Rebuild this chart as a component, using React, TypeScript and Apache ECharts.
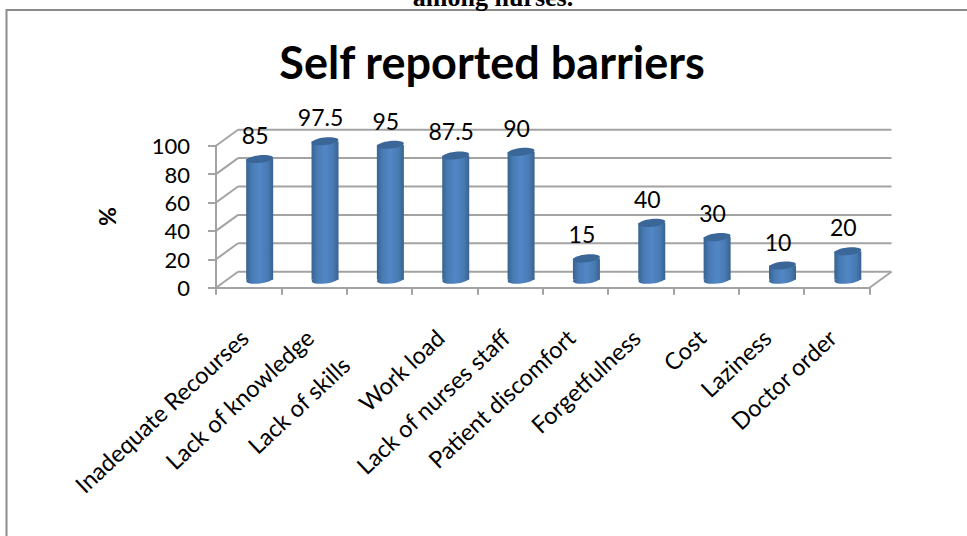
import React, { useEffect, useRef } from "react";
import * as echarts from "echarts";

const categories = ["Inadequate Recourses", "Lack of knowledge", "Lack of skills", "Work load", "Lack of nurses staff", "Patient discomfort", "Forgetfulness", "Cost", "Laziness", "Doctor order"];
const values = [85, 97.5, 95, 87.5, 90, 15, 40, 30, 10, 20];
const yTicks = [0, 20, 40, 60, 80, 100];
const titleText = "Self reported barriers";
const captionText = "among nurses.";
const yName = "%";

const FONT = "Lato";
const GRID = "#a3a3a3";
const DX = 22, DY = -16;

export default function App() {
  const ref = useRef<HTMLDivElement>(null);
  useEffect(() => {
    const chart = echarts.init(ref.current!, null, { renderer: "svg" });
    const bodyFill = new echarts.graphic.LinearGradient(0, 0, 1, 0, [
      { offset: 0, color: "#36648f" },
      { offset: 0.2, color: "#487ab4" },
      { offset: 0.5, color: "#5287c6" },
      { offset: 0.8, color: "#487ab2" },
      { offset: 1, color: "#38628f" },
    ]);
    const labelFont = { fontFamily: FONT, fontSize: 23.5, color: "#000" };
    chart.setOption({
      animation: false,
      backgroundColor: "#fff",
      title: {
        text: titleText, left: 487, top: 34, textAlign: "center",
        textStyle: { fontFamily: FONT, fontWeight: "bold", fontSize: 45, color: "#000" },
      },
      grid: { left: 216, right: 97.5, top: 145.7, bottom: 248.3 },
      xAxis: {
        type: "category", data: categories,
        axisLine: { lineStyle: { color: GRID, width: 2 } },
        axisTick: { show: true, length: 7, alignWithLabel: false, lineStyle: { color: GRID, width: 2 } },
        axisLabel: {
          interval: 0, rotate: 43, margin: 42, ...labelFont,
          formatter: (v: string) => (v === "Lack of skills" ? `{pad|${v}}` : `{base|${v}}`),
          rich: {
            base: { ...labelFont, padding: [0, 6, 0, 0] },
            pad: { ...labelFont, padding: [0, 46, 0, 0] },
          },
        },
      },
      yAxis: {
        type: "value", min: 0, max: 100, interval: 20,
        name: yName, nameLocation: "middle", nameGap: 98,
        nameTextStyle: { fontFamily: FONT, fontWeight: "bold", fontSize: 23, color: "#000" },
        axisLine: { show: true, lineStyle: { color: GRID, width: 2 } },
        axisTick: { show: true, length: 8, lineStyle: { color: GRID, width: 2 } },
        axisLabel: { margin: 26, fontFamily: FONT, fontSize: 22, color: "#000" },
        splitLine: { show: false },
      },
      series: [
        {
          type: "custom", z: 1, silent: true,
          data: yTicks.map((t) => [0, t]),
          encode: { x: 0, y: 1 },
          renderItem: (_p: any, api: any) => {
            const band = api.size([1, 0])[0];
            const p = api.coord([0, api.value(1)]);
            const left = p[0] - band / 2;
            const right = left + band * categories.length;
            const lineStyle = { stroke: GRID, lineWidth: 2, fill: "none" };
            const children: any[] = [
              { type: "line", shape: { x1: left, y1: p[1], x2: left + DX, y2: p[1] + DY }, style: lineStyle },
              { type: "line", shape: { x1: left + DX, y1: p[1] + DY, x2: right + DX, y2: p[1] + DY }, style: lineStyle },
            ];
            if (api.value(1) === 0) {
              children.push({ type: "line", shape: { x1: right, y1: p[1], x2: right + DX, y2: p[1] + DY }, style: lineStyle });
            }
            return { type: "group", children };
          },
        },
        {
          type: "custom", z: 3, silent: true,
          data: values.map((v, i) => [i, v]),
          encode: { x: 0, y: 1 },
          renderItem: (_p: any, api: any) => {
            const top = api.coord([api.value(0), api.value(1)]);
            const base = api.coord([api.value(0), 0]);
            const cx = base[0] + DX / 2;
            const by = base[1] + DY / 2;
            const ty = top[1] + DY / 2;
            const rx = 13.5, ry = 3.8, tilt = 0.11;
            return {
              type: "group",
              children: [
                { type: "ellipse", x: cx, y: by, rotation: tilt, shape: { cx: 0, cy: 0, rx, ry }, style: { fill: bodyFill } },
                { type: "rect", shape: { x: cx - rx, y: ty, width: rx * 2, height: by - ty }, style: { fill: bodyFill } },
                { type: "ellipse", x: cx, y: ty, rotation: tilt, shape: { cx: 0, cy: 0, rx, ry }, style: { fill: "#3a6698" } },
                {
                  type: "text", x: cx - 4.5, y: ty - 24,
                  style: { text: String(api.value(1)), fontFamily: FONT, fontSize: 23, fill: "#000", align: "center", verticalAlign: "middle" },
                },
              ],
            };
          },
        },
      ],
      graphic: [
        { type: "rect", z: -1, shape: { x: 6.5, y: 10, width: 1000, height: 600 }, style: { fill: "none", stroke: "#8c8c8c", lineWidth: 2 } },
        { type: "text", x: 493, y: 10, style: { text: captionText, fontFamily: "Liberation Serif", fontWeight: "bold", fontSize: 26, fill: "#000", align: "center", verticalAlign: "bottom" } },
      ],
    });
    return () => chart.dispose();
  }, []);
  return <div ref={ref} style={{ position: "absolute", left: 0, top: 0, width: 967, height: 536, overflow: "hidden" }} />;
}
